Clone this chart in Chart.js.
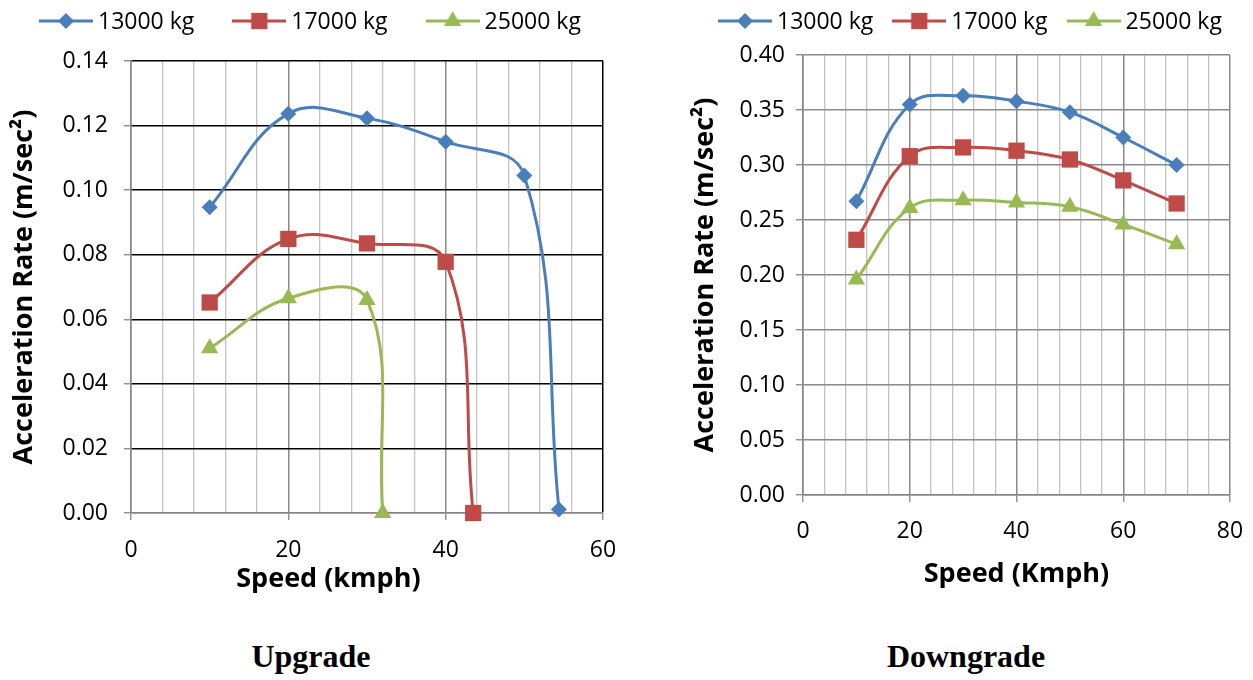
<!DOCTYPE html>
<html>
<head>
<meta charset="utf-8">
<script src="https://cdn.jsdelivr.net/npm/chart.js@4.4.1/dist/chart.umd.min.js"></script>
<style>
body { margin:0; background:#fff; width:1253px; height:680px; overflow:hidden; position:relative; }
.box { position:absolute; top:0; height:610px; }
#upBox { left:0; width:626px; }
#downBox { left:626px; width:627px; }
.cap { position:absolute; top:638px; font:bold 32px "Liberation Serif", "Times New Roman", serif; transform:translateX(-50%); color:#000; }
</style>
</head>
<body>
<div class="box" id="upBox"><canvas id="up"></canvas></div>
<div class="box" id="downBox"><canvas id="down"></canvas></div>
<div class="cap" style="left:311px">Upgrade</div>
<div class="cap" style="left:966px">Downgrade</div>
<script>
const seriesNames = ['13000 kg', '17000 kg', '25000 kg']
const colors = ['#4A7EBB', '#BE4B48', '#98B954']
const markers = ['rectRot', 'rect', 'triangle']
const markerSize = [8, 11.5, 10]

// upgrade: each series runs until acceleration drops to zero
const upSpeed13 = [10, 20, 30, 40, 50, 54.4]
const upAcc13 = [0.0947, 0.1237, 0.1223, 0.1150, 0.1045, 0.0011]
const upSpeed17 = [10, 20, 30, 40, 43.5]
const upAcc17 = [0.0652, 0.0849, 0.0835, 0.0778, 0.0]
const upSpeed25 = [10, 20, 30, 32.0]
const upAcc25 = [0.0510, 0.0665, 0.0660, 0.0]

// downgrade
const downSpeed = [10, 20, 30, 40, 50, 60, 70]
const downAcc13 = [0.267, 0.355, 0.363, 0.358, 0.348, 0.325, 0.300]
const downAcc17 = [0.232, 0.308, 0.316, 0.313, 0.305, 0.286, 0.265]
const downAcc25 = [0.196, 0.261, 0.268, 0.266, 0.262, 0.246, 0.228]

const font = '"Open Sans"'

function pts(xs, ys){
  return xs.map((x, i) => ({x: x, y: ys[i]}))
}

// legend sample: short line with the marker in the middle
function legendIcon(i){
  let c = document.createElement('canvas')
  c.width = 54; c.height = 26
  let ctx = c.getContext('2d')
  ctx.strokeStyle = colors[i]
  ctx.lineWidth = 3
  ctx.beginPath(); ctx.moveTo(0, 13); ctx.lineTo(54, 13); ctx.stroke()
  ctx.fillStyle = colors[i]
  Chart.helpers.drawPoint(ctx, {pointStyle: markers[i], radius: markerSize[i], rotation: 0, borderWidth: 0}, 27, 13)
  return c
}
const icons = [0, 1, 2].map(legendIcon)

// excel style legend: line sample, text, fixed gap to the next entry
const lineLegend = {
  id: 'lineLegend',
  afterDraw(chart, args, opts){
    const ctx = chart.ctx
    ctx.save()
    ctx.font = '23px ' + font
    ctx.textBaseline = 'middle'
    ctx.fillStyle = '#000'
    let x = opts.x
    chart.data.datasets.forEach((ds, i) => {
      ctx.drawImage(icons[i], x, opts.y - 13)
      x += 59
      ctx.fillText(ds.label, x, opts.y + 1)
      x += ctx.measureText(ds.label).width + opts.gap
    })
    ctx.restore()
  }
}

function makeSet(i, data){
  return {
    label: seriesNames[i],
    data: data,
    showLine: true,
    borderColor: colors[i],
    backgroundColor: colors[i],
    borderWidth: 3,
    tension: 0.4,
    pointStyle: markers[i],
    pointRadius: markerSize[i],
    pointHoverRadius: markerSize[i],
    pointBorderWidth: 0,
    clip: false
  }
}

function makeChart(id, sets, cfg){
  const isMajor = v => Math.abs(v % 20) < 1e-6
  new Chart(document.getElementById(id), {
    type: 'scatter',
    data: {datasets: sets},
    plugins: [lineLegend],
    options: {
      responsive: true,
      maintainAspectRatio: false,
      animation: false,
      layout: {padding: cfg.pad},
      plugins: {
        tooltip: {enabled: false},
        legend: {display: false},
        lineLegend: cfg.legend
      },
      scales: {
        x: {
          type: 'linear',
          min: 0, max: cfg.xMax,
          afterFit: s => { s.height = cfg.xH; s.paddingLeft = 0; s.paddingRight = 10 },
          ticks: {
            stepSize: 4, autoSkip: false, maxRotation: 0,
            padding: cfg.xTickPad,
            color: '#000',
            font: {family: font, size: 23},
            callback: v => isMajor(v) ? v : ''
          },
          grid: {
            color: c => cfg.xGrid(c.tick.value, isMajor(c.tick.value)),
            lineWidth: c => isMajor(c.tick.value) ? 1.5 : 1.3,
            tickLength: 7,
            tickColor: c => isMajor(c.tick.value) ? '#868686' : 'rgba(0,0,0,0)',
            tickWidth: 1.3
          },
          border: {color: '#868686', width: 1.5},
          title: {
            display: true, text: cfg.xTitle, color: '#000',
            font: {family: font, size: 27, weight: 'bold'},
            padding: {top: 0, bottom: 0}
          }
        },
        y: {
          min: 0, max: cfg.yMax,
          afterFit: s => { s.width = cfg.yW },
          ticks: {
            stepSize: cfg.yStep,
            padding: cfg.yTickPad,
            color: '#000',
            font: {family: font, size: 23},
            callback: v => v.toFixed(2)
          },
          grid: {
            color: c => cfg.yGrid(c.tick.value),
            lineWidth: 1.5,
            tickLength: 7,
            tickColor: '#868686',
            tickWidth: 1.3
          },
          border: {color: '#868686', width: 1.5},
          title: {
            display: true, text: 'Acceleration Rate (m/sec²)', color: '#000',
            font: {family: font, size: 27, weight: 'bold'},
            padding: {top: 0, bottom: 0}
          }
        }
      }
    }
  })
}

makeChart('up', [
  makeSet(0, pts(upSpeed13, upAcc13)),
  makeSet(1, pts(upSpeed17, upAcc17)),
  makeSet(2, pts(upSpeed25, upAcc25))
], {
  xMax: 60, yMax: 0.14, yStep: 0.02,
  // title sits left of the plot centre in the original, trailing nbsp pushes it over
  xTitle: 'Speed (kmph)' + '\u00a0'.repeat(11),
  pad: {left: 8, right: 23, top: 61, bottom: 14},
  yW: 123, xH: 83, xTickPad: 17, yTickPad: 16,
  legend: {x: 39, y: 21, gap: 38},
  xGrid: (v, major) => v === 60 ? '#000' : (major ? '#8a8a8a' : '#c4c4c4'),
  yGrid: v => v === 0 ? '#868686' : '#000'
})

makeChart('down', [
  makeSet(0, pts(downSpeed, downAcc13)),
  makeSet(1, pts(downSpeed, downAcc17)),
  makeSet(2, pts(downSpeed, downAcc25))
], {
  xMax: 80, yMax: 0.40, yStep: 0.05,
  xTitle: 'Speed (Kmph)',
  pad: {left: 63, right: 23, top: 55, bottom: 19},
  yW: 114, xH: 96, xTickPad: 16, yTickPad: 11,
  legend: {x: 92, y: 21, gap: 19},
  xGrid: (v, major) => major ? '#8a8a8a' : '#c4c4c4',
  yGrid: v => '#8a8a8a'
})
</script>
</body>
</html>
